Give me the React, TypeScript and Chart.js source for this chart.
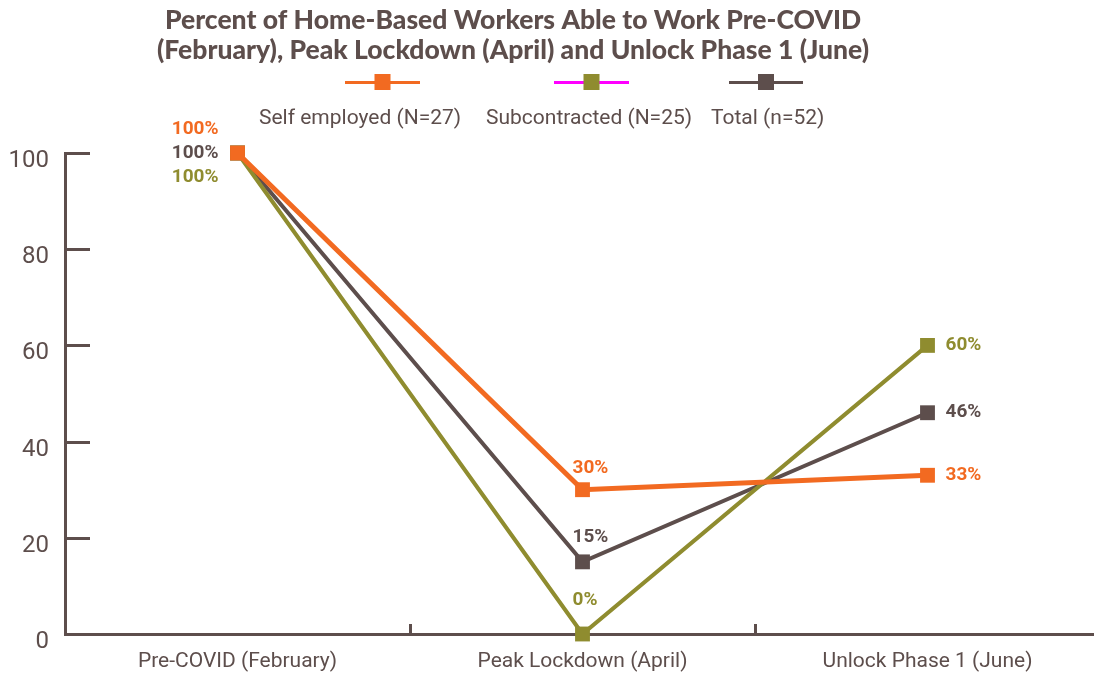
import React, { useEffect, useRef } from "react";
import { Chart, registerables } from "chart.js";

Chart.register(...registerables);

const categories = ["Pre-COVID (February)", "Peak Lockdown (April)", "Unlock Phase 1 (June)"];
const seriesNames = ["Self employed (N=27)", "Subcontracted (N=25)", "Total (n=52)"];
const selfEmployed = [100, 30, 33];
const subcontracted = [100, 0, 60];
const total = [100, 15, 46];
const yTicks = [0, 20, 40, 60, 80, 100];

const titleLines = [
  "Percent of Home-Based Workers Able to Work Pre-COVID",
  "(February), Peak Lockdown (April) and Unlock Phase 1 (June)",
];

const ORANGE = "#F26A21";
const OLIVE = "#8F8C2F";
const BROWN = "#5D4E4C";
const MAGENTA = "#FF00FF";
const TEXT = "#5D4E4C";

// label placement per series/point: [dx, dy, align]
const labelPlacement: [number, number, CanvasTextAlign][][] = [
  [[-19, -24, "right"], [-10, -21, "left"], [18, 0, "left"]],
  [[-19, 24, "right"], [-10, -34, "left"], [18, 0, "left"]],
  [[-19, 0, "right"], [-10, -25, "left"], [18, 0, "left"]],
];

const legendItems = [
  { line: ORANGE, marker: ORANGE, x1: 345, x2: 420, textX: 259 },
  { line: MAGENTA, marker: OLIVE, x1: 554, x2: 629, textX: 486 },
  { line: BROWN, marker: BROWN, x1: 729, x2: 803, textX: 711 },
];

const decorPlugin = {
  id: "decor",
  beforeDatasetsDraw(chart: any) {
    const { ctx, chartArea, scales } = chart;
    ctx.save();
    ctx.strokeStyle = BROWN;
    ctx.lineWidth = 3;
    const y = scales.y;
    y.ticks.forEach((t: any) => {
      const py = Math.round(y.getPixelForValue(t.value)) + 0.5;
      ctx.beginPath();
      ctx.moveTo(chartArea.left, py);
      ctx.lineTo(chartArea.left + 25, py);
      ctx.stroke();
    });
    const x = scales.x;
    for (let i = 1; i < categories.length; i++) {
      const px = Math.round((x.getPixelForValue(i - 1) + x.getPixelForValue(i)) / 2) + 0.5;
      ctx.beginPath();
      ctx.moveTo(px, chartArea.bottom);
      ctx.lineTo(px, chartArea.bottom - 10);
      ctx.stroke();
    }
    ctx.restore();
  },
  afterDatasetsDraw(chart: any) {
    const { ctx } = chart;
    ctx.save();
    ctx.font = "bold 19px Roboto";
    ctx.textBaseline = "middle";
    chart.data.datasets.forEach((ds: any, i: number) => {
      const meta = chart.getDatasetMeta(i);
      meta.data.forEach((pt: any, j: number) => {
        const [dx, dy, align] = labelPlacement[i][j];
        ctx.fillStyle = ds.borderColor;
        ctx.textAlign = align;
        ctx.fillText(ds.data[j] + "%", pt.x + dx, pt.y + dy);
      });
    });
    ctx.restore();
  },
  afterDraw(chart: any) {
    const { ctx } = chart;
    ctx.save();
    ctx.fillStyle = TEXT;
    ctx.textAlign = "center";
    ctx.textBaseline = "middle";
    ctx.font = "900 26.5px Lato";
    ctx.fillText(titleLines[0], 513, 20);
    ctx.fillText(titleLines[1], 513, 50);
    legendItems.forEach((it, i) => {
      ctx.strokeStyle = it.line;
      ctx.lineWidth = 3;
      ctx.beginPath();
      ctx.moveTo(it.x1, 82.5);
      ctx.lineTo(it.x2, 82.5);
      ctx.stroke();
      ctx.fillStyle = it.marker;
      const cx = (it.x1 + it.x2) / 2;
      ctx.fillRect(cx - 8, 74, 16, 16);
      ctx.fillStyle = TEXT;
      ctx.textAlign = "left";
      ctx.font = "21px Roboto";
      ctx.fillText(seriesNames[i], it.textX, 119);
    });
    ctx.restore();
  },
};

export default function App() {
  const ref = useRef<HTMLCanvasElement>(null);
  useEffect(() => {
    if (!ref.current) return;
    const mk = (label: string, data: number[], color: string, width: number) => ({
      label,
      data,
      borderColor: color,
      backgroundColor: color,
      borderWidth: width,
      pointStyle: "rect",
      pointRadius: 10.5,
      pointHoverRadius: 10.5,
      pointBorderWidth: 0,
      tension: 0,
      clip: false,
    });
    const chart = new Chart(ref.current, {
      type: "line",
      data: {
        labels: categories,
        datasets: [
          mk(seriesNames[0], selfEmployed, ORANGE, 5),
          mk(seriesNames[1], subcontracted, OLIVE, 4),
          mk(seriesNames[2], total, BROWN, 4),
        ] as any,
      },
      options: {
        responsive: false,
        animation: false,
        devicePixelRatio: 1,
        layout: { autoPadding: false, padding: { top: 153, left: 0, right: 0, bottom: 0 } },
        plugins: {
          legend: { display: false },
          tooltip: { enabled: false },
          title: { display: false },
        },
        scales: {
          x: {
            offset: true,
            grid: { display: false, drawTicks: false },
            border: { display: true, color: BROWN, width: 3 },
            ticks: { color: TEXT, font: { family: "Roboto", size: 21 }, padding: 15 },
            afterFit: (s: any) => {
              s.height = 41;
              s.paddingLeft = 0;
              s.paddingRight = 0;
            },
          },
          y: {
            min: 0,
            max: 100,
            afterBuildTicks: (s: any) => {
              s.ticks = yTicks.map((v) => ({ value: v }));
            },
            grid: { display: false, drawTicks: false },
            border: { display: true, color: BROWN, width: 3 },
            ticks: {
              color: TEXT,
              font: { family: "Roboto", size: 24 },
              padding: 16,
              labelOffset: 8,
            },
            afterFit: (s: any) => {
              s.width = 65;
              s.paddingTop = 0;
              s.paddingBottom = 0;
            },
          },
        },
      },
      plugins: [decorPlugin],
    });
    return () => chart.destroy();
  }, []);
  return (
    <div style={{ position: "absolute", left: 0, top: 0, width: 1094, height: 675, overflow: "hidden" }}>
      <canvas ref={ref} width={1100} height={675} style={{ display: "block", width: 1100, height: 675 }} />
    </div>
  );
}
